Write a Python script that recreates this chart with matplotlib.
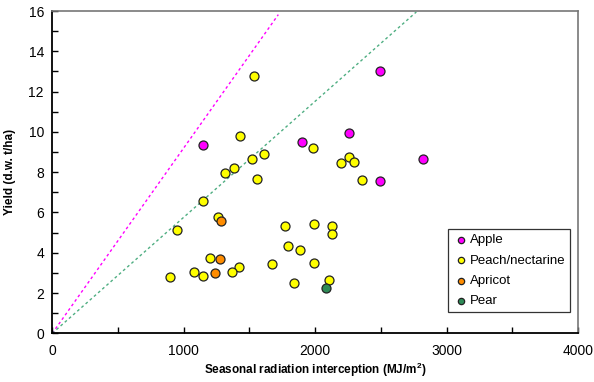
import matplotlib.pyplot as plt
from matplotlib.ticker import MultipleLocator

plt.rcParams['font.family'] = ['Liberation Sans', 'DejaVu Sans']

# Data (radiation MJ/m2, yield t/ha)
apple_x = [1145, 1898, 2260, 2496, 2824, 2496]
apple_y = [9.36, 9.50, 9.97, 13.01, 8.66, 7.55]

peach_x = [1533, 1431, 1614, 1517, 1982, 1383, 1312, 1560, 2197, 2256, 2298, 2359,
           1145, 1261, 947, 1768, 1989, 1796, 1883, 1203, 1670, 1989, 1418, 1368,
           1081, 1147, 898, 1839, 2131, 2131, 2106]
peach_y = [12.78, 9.82, 8.89, 8.63, 9.18, 8.21, 7.97, 7.65, 8.46, 8.73, 8.51, 7.59,
           6.56, 5.75, 5.14, 5.34, 5.42, 4.35, 4.12, 3.72, 3.42, 3.47, 3.29, 3.06,
           3.03, 2.86, 2.78, 2.50, 5.32, 4.91, 2.64]

apricot_x = [1284, 1276, 1241]
apricot_y = [5.57, 3.67, 2.98]

pear_x = [2081]
pear_y = [2.26]

# Reference lines through origin
line_hi = (0.0092, 1720)
line_lo = (0.00576, 2770)

fig = plt.figure(figsize=(5.94, 3.82), dpi=100)
ax = fig.add_axes([0.088, 0.1275, 0.885, 0.8435])

for slope, xend in [line_hi, line_lo]:
    col = '#ff00ff' if slope == line_hi[0] else '#4fae82'
    ax.plot([0, xend], [0, slope * xend], ls=(0, (2, 2)), color=col, lw=1.0, zorder=1)

ms = 42
ax.scatter(apple_x, apple_y, s=ms, c='#ff00ff', edgecolors='#222222', linewidths=0.9,
           label='Apple', zorder=3)
ax.scatter(peach_x, peach_y, s=ms, c='#ffff00', edgecolors='#222222', linewidths=0.9,
           label='Peach/nectarine', zorder=3)
ax.scatter(apricot_x, apricot_y, s=ms, c='#ff8c00', edgecolors='#222222', linewidths=0.9,
           label='Apricot', zorder=3)
ax.scatter(pear_x, pear_y, s=ms, c='#2e8b57', edgecolors='#222222', linewidths=0.9,
           label='Pear', zorder=3)

ax.set_xlim(0, 4000)
ax.set_ylim(0, 16)
ax.xaxis.set_major_locator(MultipleLocator(1000))
ax.xaxis.set_minor_locator(MultipleLocator(500))
ax.yaxis.set_major_locator(MultipleLocator(2))
ax.yaxis.set_minor_locator(MultipleLocator(1))
ax.tick_params(which='both', direction='in', length=4, width=1, labelsize=10, pad=6)
ax.tick_params(axis='x', pad=8)

ax.spines['left'].set_linewidth(1.3)
ax.spines['bottom'].set_linewidth(1.3)
ax.spines['top'].set_color('#777777')
ax.spines['right'].set_color('#777777')
ax.spines['top'].set_linewidth(1.2)
ax.spines['right'].set_linewidth(1.2)

ax.set_xlabel('Seasonal radiation interception (MJ/m$^\\mathregular{2}$)', fontsize=8.5,
              fontweight='bold', labelpad=2)
ax.set_ylabel('Yield (d.w. t/ha)', fontsize=8.5, fontweight='bold', labelpad=9)

leg = ax.legend(loc='lower right', bbox_to_anchor=(0.985, 0.066), fontsize=9.5,
                frameon=True, fancybox=False, edgecolor='black', handletextpad=0.1,
                labelspacing=0.62, borderpad=0.35, handlelength=1.2, markerscale=0.7,
                borderaxespad=0)
leg.get_frame().set_linewidth(0.9)

fig.savefig('out.png', dpi=100)
